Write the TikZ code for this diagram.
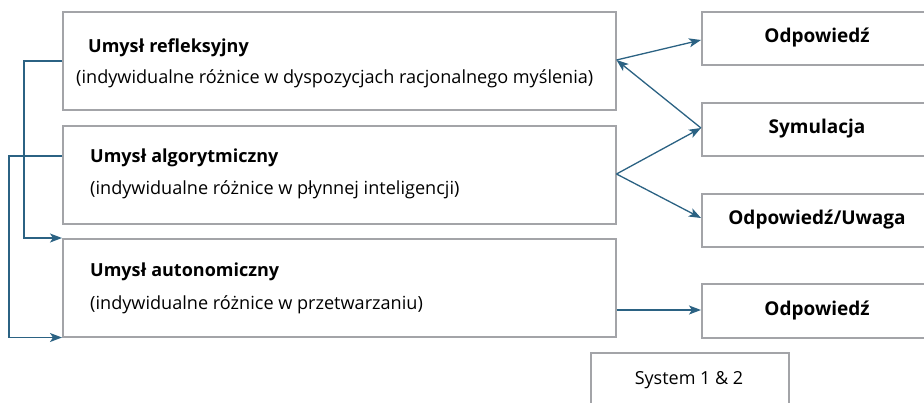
\documentclass[tikz,border=0pt]{standalone}
\usepackage{fontspec}
\setmainfont{Open Sans}
\usetikzlibrary{arrows.meta,calc}
\definecolor{boxgray}{HTML}{A3A4A8}
\definecolor{arrblue}{HTML}{2B6283}
\tikzset{
  box/.style={draw=boxgray, line width=1.5pt, fill=white, anchor=north west, inner sep=0pt},
  arr/.style={draw=arrblue, line width=1.3pt, -{Stealth[length=12pt,width=9pt,inset=3pt]}},
  title/.style={font=\fontsize{18}{20}\selectfont\bfseries, anchor=west, inner sep=0pt},
  sub/.style={font=\fontsize{18.1}{20}\selectfont, anchor=west, inner sep=0pt},
  rlab/.style={font=\fontsize{19}{21}\selectfont\bfseries, inner sep=0pt}
}
\begin{document}
\begin{tikzpicture}[x=1pt,y=-1pt]
\useasboundingbox (0,0) rectangle (924,402);
% left boxes
\node[box, minimum width=553pt, minimum height=98pt] (r) at (62,11) {};
\node[box, minimum width=553pt, minimum height=98pt] (a) at (62,125) {};
\node[box, minimum width=553pt, minimum height=98pt] (u) at (62,238) {};
% right boxes
\node[box, minimum width=232pt, minimum height=53pt] (o1) at (701,11) {};
\node[box, minimum width=232pt, minimum height=53pt] (s) at (701,102) {};
\node[box, minimum width=232pt, minimum height=53pt] (ou) at (701,193) {};
\node[box, minimum width=232pt, minimum height=54pt] (o2) at (701,283) {};
\node[box, minimum width=198pt, minimum height=60pt] (sys) at (590,352) {};
% texts
\node[title] (rt) at (88,48) {Umysł refleksyjny};
\node[sub] (rs) at (76,79) {(indywidualne różnice w dyspozycjach racjonalnego myślenia)};
\node[title] (at) at (90,158) {Umysł algorytmiczny};
\node[sub] (as) at (90,190) {(indywidualne różnice w płynnej inteligencji)};
\node[title] (ut) at (90,272) {Umysł autonomiczny};
\node[sub] (us) at (90,305) {(indywidualne różnice w przetwarzaniu)};
\node[rlab] (o1t) at (817,38) {Odpowiedź};
\node[rlab] (st) at (817,129) {Symulacja};
\node[rlab] (out) at (817,219) {Odpowiedź/Uwaga};
\node[rlab] (o2t) at (817,310) {Odpowiedź};
\node[font=\fontsize{18}{20}\selectfont, inner sep=0pt] (syst) at (689,380) {System 1 \& 2};
% coordinates
\coordinate (r1) at ($(r.north east)+(0,49)$);
\coordinate (a1) at ($(a.north east)+(0,49)$);
\coordinate (u1) at ($(u.north east)+(0,72)$);
% arrows right
\draw[arr] (r1) -- ($(o1.north west)+(0,29)$);
\draw[arr] ($(s.north west)+(0,26)$) -- (r1);
\draw[arr] (a1) -- ($(s.north west)+(0,26)$);
\draw[arr] (a1) -- ($(ou.north west)+(0,25)$);
\draw[arr] (u1) -- ($(o2.north west)+(0,27)$);
% left connectors
\coordinate (c1) at ($(r.north west)+(-38,50)$);
\coordinate (c2) at ($(a.north west)+(-53,31)$);
\draw[arr] ($(r.north west)+(0,50)$) -- (c1) |- (u.north west);
\draw[arr] ($(a.north west)+(0,31)$) -- (c2) |- (u.south west);
\end{tikzpicture}
\end{document}
